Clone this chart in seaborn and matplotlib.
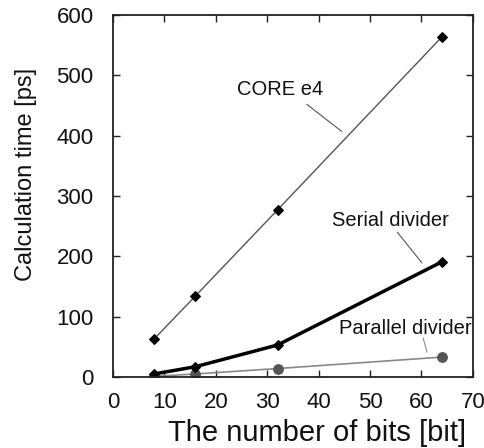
import matplotlib
matplotlib.use("Agg")
import matplotlib.pyplot as plt
import seaborn as sns
import pandas as pd

bits = [8, 16, 32, 64]
core_e4 = [63, 134, 277, 564]
serial_divider = [5, 17, 53, 191]
parallel_divider = [1, 5, 14, 33]

sns.set_style("ticks")
plt.rcParams['font.family'] = ['Liberation Sans', 'DejaVu Sans']

fig = plt.figure(figsize=(4.84, 4.48), dpi=100)
ax = fig.add_axes([0.2335, 0.1585, 0.7435, 0.808])

df_core = pd.DataFrame({"bits": bits, "time": core_e4})
df_ser = pd.DataFrame({"bits": bits, "time": serial_divider})
df_par = pd.DataFrame({"bits": bits, "time": parallel_divider})

sns.lineplot(data=df_core, x="bits", y="time", ax=ax, color="#555555", lw=1.0,
             marker="D", markersize=5, markerfacecolor="black", markeredgecolor="black")
sns.lineplot(data=df_par, x="bits", y="time", ax=ax, color="#888888", lw=1.2,
             marker="o", markersize=7, markerfacecolor="#555555", markeredgecolor="#555555")
sns.lineplot(data=df_ser, x="bits", y="time", ax=ax, color="black", lw=2.5,
             marker="D", markersize=5, markerfacecolor="black", markeredgecolor="black")

ax.set_xlim(0, 70)
ax.set_ylim(0, 600)
ax.set_xticks(range(0, 71, 10))
ax.set_yticks(range(0, 601, 100))
ax.tick_params(direction="in", top=True, right=True, length=5, width=1, labelsize=16,
               colors="#222222", labelcolor="#111111")
ax.tick_params(axis="x", pad=11)
ax.tick_params(axis="y", pad=14)
for s in ax.spines.values():
    s.set_linewidth(1.3)
    s.set_color("#222222")
ax.set_xlabel("The number of bits [bit]", fontsize=21, labelpad=4, color="#111111")
ax.set_ylabel("Calculation time [ps]", fontsize=17, labelpad=14, color="#111111")
ax.xaxis.set_label_coords(0.567, -0.115)
ax.yaxis.label.set_y(0.56)

ax.text(32.5, 476, "CORE e4", ha="center", va="center", fontsize=14.5, color="#111111")
ax.plot([37.7, 44.5], [452, 407], color="#555555", lw=0.8)
ax.text(53.9, 260, "Serial divider", ha="center", va="center", fontsize=14.5, color="#111111")
ax.plot([55.3, 60.1], [240, 189], color="#555555", lw=0.8)
ax.text(56.8, 81, "Parallel divider", ha="center", va="center", fontsize=14.5, color="#111111")
ax.plot([60.3, 61.1], [65, 41], color="#888888", lw=0.8)

fig.savefig("out.png", dpi=100)
